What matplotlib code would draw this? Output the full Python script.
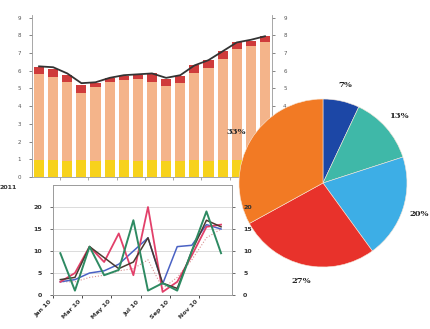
import matplotlib
matplotlib.use("Agg")
import matplotlib.pyplot as plt
import numpy as np

# top chart: stacked bars + total line
bar_totals = [6.2, 6.1, 5.75, 5.2, 5.3, 5.6, 5.7, 5.75, 5.85, 5.55, 5.7, 6.3, 6.6, 7.1, 7.6, 7.7, 7.95]
bar_base = [0.95, 0.95, 0.9, 0.95, 0.9, 0.95, 0.95, 0.9, 0.95, 0.9, 0.9, 0.95, 0.9, 0.95, 0.95, 0.9, 0.95]
bar_caps = [0.4, 0.45, 0.4, 0.45, 0.2, 0.25, 0.2, 0.2, 0.5, 0.4, 0.4, 0.45, 0.45, 0.45, 0.35, 0.3, 0.3]
line_vals = [6.25, 6.2, 5.85, 5.3, 5.35, 5.6, 5.75, 5.8, 5.85, 5.6, 5.75, 6.3, 6.6, 7.1, 7.6, 7.75, 7.95]
top_yticks = [0, 1, 2, 3, 4, 5, 6, 7, 8, 9]

# lower chart: monthly lines
month_labels = ["Jan 10", "Mar 10", "May 10", "Jul 10", "Sep 10", "Nov 10"]
green = [9.5, 1, 11, 4.5, 5.7, 17, 1, 2.7, 1, 10, 19, 9.5]
red = [3, 5, 11, 7.5, 14, 4.5, 20, 0.7, 3, 9, 15.5, 16]
blue = [3, 3.5, 5, 5.5, 7, 10, 13, 2.5, 11, 11.3, 16, 15]
dark = [3.5, 4, 11, 8.5, 6, 7.5, 13, 2.7, 1.5, 10, 17, 15.5]
dotted = [3, 3, 4, 4.5, 5.5, 6, 8, 1.5, 4, 8, 13, 15]
low_yticks = [0, 5, 10, 15, 20]

# pie
pie_vals = [7, 13, 20, 27, 33]
pie_colors = ["#1c47a6", "#3fb8a8", "#3daee6", "#e8322b", "#f27a24"]

fig = plt.figure(figsize=(4.31, 3.29), dpi=100)

# ---- top bar chart
ax1 = fig.add_axes([0.0742, 0.462, 0.557, 0.4924])
x = np.arange(len(bar_totals))
mid = [t - b - c for t, b, c in zip(bar_totals, bar_base, bar_caps)]
tops = [t - c for t, c in zip(bar_totals, bar_caps)]
ax1.bar(x, bar_base, width=0.72, color="#f7d21c", edgecolor="none")
ax1.bar(x, mid, bottom=bar_base, width=0.72, color="#f4b48a", edgecolor="none")
ax1.bar(x, bar_caps, bottom=tops, width=0.72, color="#cf3b3b", edgecolor="none")
ax1.plot(x, line_vals, color="#333333", lw=1.3)
ax1.set_xlim(-0.5, len(bar_totals) - 0.5)
ax1.set_ylim(0, 9.15)
ax1.set_yticks(top_yticks)
ax1.set_xticks(np.arange(1.5, len(bar_totals), 2))
ax1.set_xticklabels([])
ax1.tick_params(axis="y", labelsize=4, colors="#555555", length=2, width=0.5,
                right=True, labelright=True, pad=6)
ax1.tick_params(axis="x", length=2, width=0.5, colors="#888888")
for s in ["top"]:
    ax1.spines[s].set_visible(False)
for s in ["left", "right", "bottom"]:
    ax1.spines[s].set_color("#999999")
    ax1.spines[s].set_linewidth(0.6)

# ---- pie chart
ax3 = fig.add_axes([0.5058, 0.1246, 0.4872, 0.6383])
ax3.pie(pie_vals, colors=pie_colors, startangle=90, counterclock=False,
        autopct="%d%%", pctdistance=1.2,
        wedgeprops=dict(edgecolor="#f6e6d8", linewidth=0.4),
        textprops=dict(fontsize=6, family="DejaVu Serif", fontweight="bold", color="#222222"))
ax3.set_aspect("equal")

# ---- lower line chart
ax2 = fig.add_axes([0.123, 0.1033, 0.4153, 0.3343])
ax2.set_zorder(5)
xi = np.arange(len(green))
ax2.plot(xi, dotted, color="#d99090", lw=0.8, ls=":")
ax2.plot(xi, blue, color="#4a62c4", lw=1.1)
ax2.plot(xi, red, color="#e2406a", lw=1.3)
ax2.plot(xi, dark, color="#4a3a30", lw=1.1)
ax2.plot(xi, green, color="#2e8a62", lw=1.4)
ax2.set_xlim(-0.5, 11.75)
ax2.set_ylim(0, 25)
ax2.set_yticks(low_yticks)
ax2.yaxis.grid(True, color="#d6d6d6", lw=0.6)
ax2.set_axisbelow(True)
ax2.set_xticks(np.arange(-0.5, 10, 2))
ax2.set_xticklabels(month_labels, rotation=45, ha="right", fontsize=4.5,
                    fontweight="bold", color="#333333")
ax2.tick_params(axis="y", labelsize=4.5, colors="#333333", length=2, width=0.5,
                right=True, labelright=True, pad=6)
ax2.tick_params(axis="x", length=2, width=0.5, pad=1)
for lab in ax2.get_yticklabels():
    lab.set_fontweight("bold")
for s in ax2.spines.values():
    s.set_color("#9a9a9a")
    s.set_linewidth(0.7)
ax2.text(-0.2, 0.98, "2011", transform=ax2.transAxes, fontsize=4.5,
         fontweight="bold", color="#333333", ha="right", va="center")

fig.savefig("out.png", dpi=100)
